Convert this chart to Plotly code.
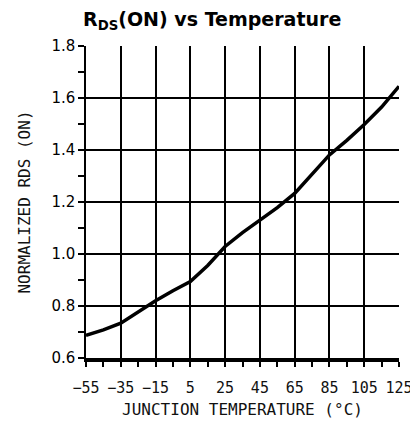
import plotly.graph_objects as go

temps = [-55, -45, -35, -25, -20, -15, -5, 5, 15, 25, 35, 45, 55, 65, 75, 85, 95, 105, 115, 125]
rds = [0.687, 0.708, 0.734, 0.776, 0.800, 0.820, 0.859, 0.894, 0.956, 1.029, 1.082, 1.131, 1.178, 1.233, 1.305, 1.381, 1.437, 1.498, 1.565, 1.645]

x_ticks = [-55, -35, -15, 5, 25, 45, 65, 85, 105, 125]
y_ticks = [0.6, 0.8, 1.0, 1.2, 1.4, 1.6, 1.8]

mono = "DejaVu Sans Mono"
sans = "DejaVu Sans, Liberation Sans, Arial, sans-serif"

fig = go.Figure()
fig.add_trace(go.Scatter(x=temps, y=rds, mode="lines",
                         line=dict(color="black", width=3.5), showlegend=False,
                         hoverinfo="skip"))

# page body has an 8px default margin, so the figure is 8px smaller than the window
fig.update_layout(
    width=410, height=421,
    margin=dict(l=78, r=19, t=38, b=71),
    paper_bgcolor="white", plot_bgcolor="white",
    title=dict(text="R<sub>DS</sub>(ON) vs Temperature",
               font=dict(family=sans, size=19, color="black", weight="bold"),
               xref="container", x=0.183, xanchor="left", y=0.99, yanchor="top"),
)
fig.update_xaxes(
    range=[-55, 125], tickvals=x_ticks, ticktext=[str(v).replace("-", "\u2212") for v in x_ticks],
    showgrid=True, gridcolor="black", gridwidth=1.5,
    showline=True, linecolor="black", linewidth=4,
    ticks="outside", ticklen=5, tickcolor="black", tickwidth=1.5,
    minor=dict(ticks="outside", dtick=10, tick0=-55, ticklen=5, tickcolor="black", tickwidth=1.5, showgrid=False),
    tickfont=dict(family=mono, size=15, color="#111"), ticklabelstandoff=8,
    title=dict(text="JUNCTION TEMPERATURE (\u00b0C)", font=dict(family=mono, size=16, color="#111"), standoff=9),
    zeroline=False, fixedrange=True, automargin=False,
)
fig.update_yaxes(
    range=[0.6, 1.8], tickvals=y_ticks, ticktext=[f"{v:.1f}" for v in y_ticks],
    showgrid=True, gridcolor="black", gridwidth=1.5,
    showline=True, linecolor="black", linewidth=1.5,
    ticks="outside", ticklen=6, tickcolor="black", tickwidth=1.5,
    minor=dict(ticks="outside", dtick=0.1, tick0=0.6, ticklen=6, tickcolor="black", tickwidth=1.5, showgrid=False),
    tickfont=dict(family=sans, size=15, color="black"),
    title=dict(text="NORMALIZED RDS (ON)", font=dict(family=mono, size=16, color="#111"), standoff=17),
    zeroline=False, fixedrange=True, automargin=False,
)

fig.write_html("out.html")
